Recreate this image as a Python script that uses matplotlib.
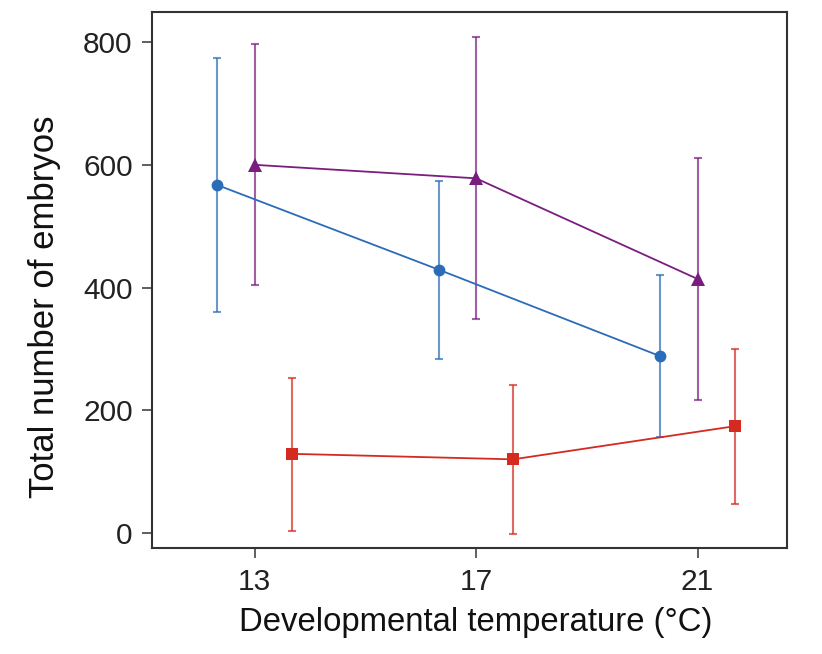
import matplotlib as mpl
import matplotlib.pyplot as plt

# Developmental temperature (degC) and the per-series x offsets
temps = [13, 17, 21]
offsets = [-0.67, 0.0, 0.67]

# Mean total embryos and lower / upper error bounds
blue_mean = [567, 429, 288]
blue_low = [360, 283, 157]
blue_high = [774, 574, 420]

purple_mean = [600, 578, 414]
purple_low = [404, 348, 216]
purple_high = [797, 809, 611]

red_mean = [129, 120, 174]
red_low = [4, -2, 48]
red_high = [253, 241, 300]

series = [
    (blue_mean, blue_low, blue_high, '#2b6cb8', 'o', 8.5, offsets[0]),
    (purple_mean, purple_low, purple_high, '#7a1d7f', '^', 10.5, offsets[1]),
    (red_mean, red_low, red_high, '#d52a20', 's', 8, offsets[2]),
]

mpl.rcParams['font.family'] = ['Liberation Sans', 'DejaVu Sans']
mpl.rcParams['font.size'] = 21.5

fig = plt.figure(figsize=(8.22, 6.54), dpi=100)
ax = fig.add_axes([0.185, 0.1616, 0.772, 0.82])

for mean, low, high, color, marker, ms, off in series:
    xs = [t + off for t in temps]
    err = [[m - l for m, l in zip(mean, low)], [h - m for m, h in zip(mean, high)]]
    ax.errorbar(xs, mean, yerr=err, fmt='none', ecolor=color, alpha=0.7,
                elinewidth=1.5, capsize=3, capthick=1.5, zorder=2)
    ax.plot(xs, mean, color=color, lw=1.3, marker=marker, ms=ms,
            markeredgewidth=0, zorder=3)

ax.set_xlim(11.15, 22.61)
ax.set_ylim(-25, 849)
ax.set_xticks(temps)
ax.set_yticks([0, 200, 400, 600, 800])

for s in ax.spines.values():
    s.set_linewidth(1.5)
    s.set_color('#333333')
ax.tick_params(direction='out', length=7, width=1.2, color='#444444',
               labelcolor='#222222', pad=7)

ax.set_xlabel('Developmental temperature (°C)', fontsize=23.7, color='#111111', labelpad=8)
ax.set_ylabel('Total number of embryos', fontsize=25, color='#111111', labelpad=16)
# labels sit slightly off-centre in the original
ax.xaxis.label.set_x(0.51)
ax.yaxis.label.set_y(0.451)

fig.savefig('out.png', dpi=100)
